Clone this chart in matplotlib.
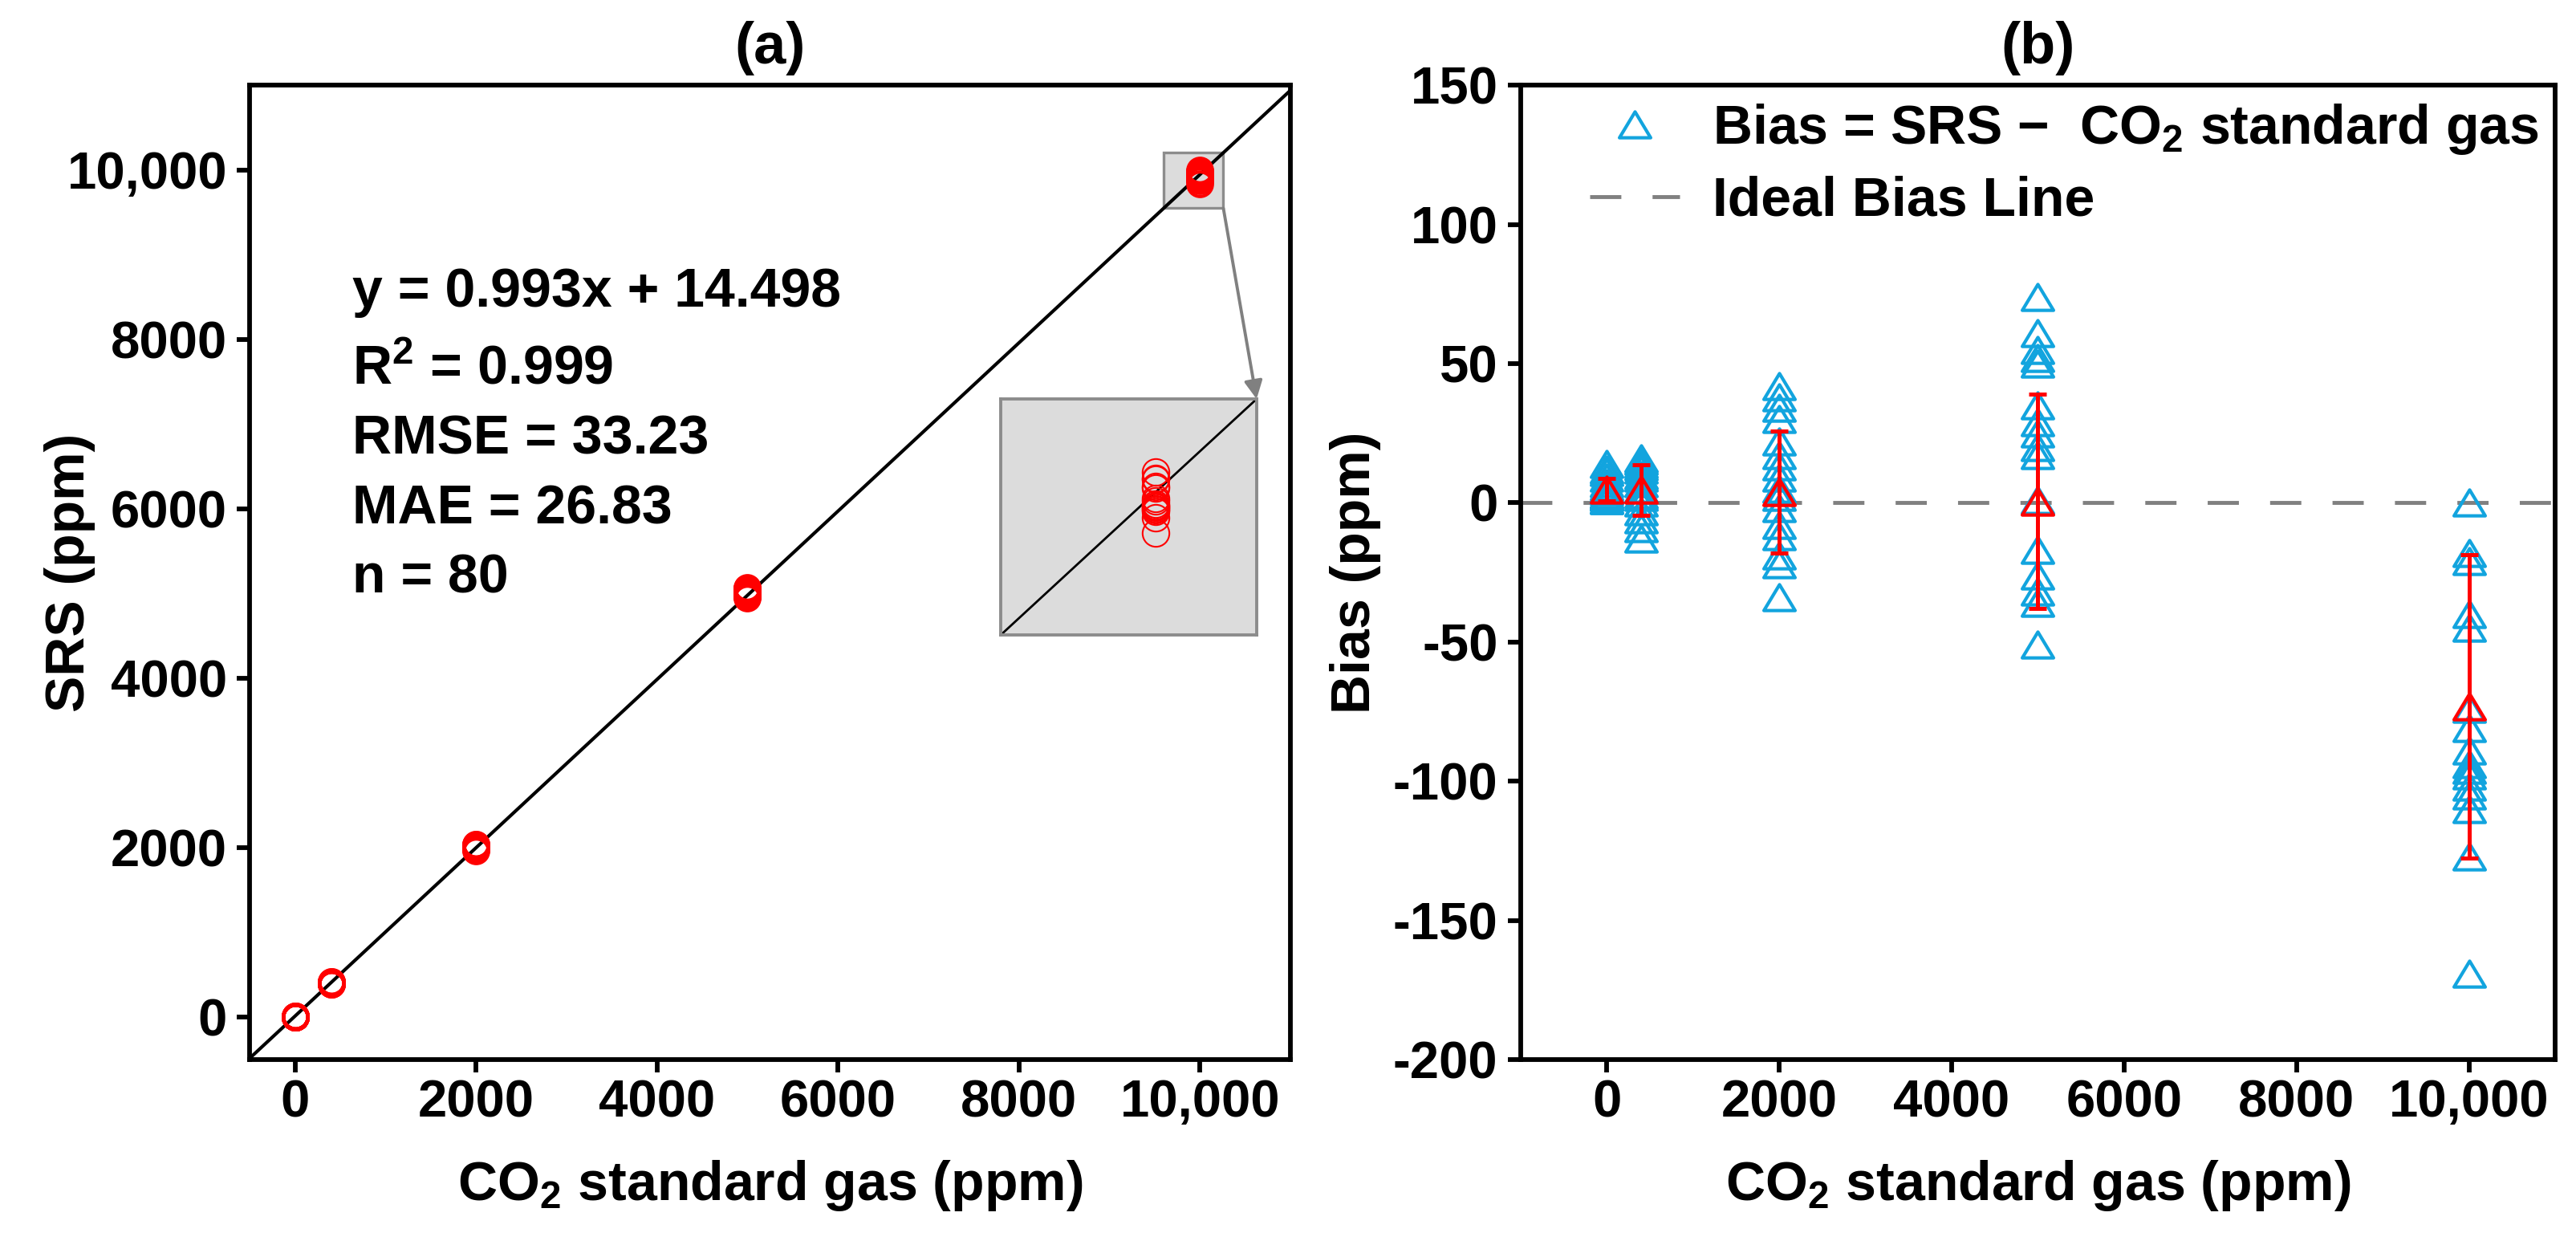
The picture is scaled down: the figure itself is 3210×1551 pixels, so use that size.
import numpy as np
import matplotlib
matplotlib.use("Agg")
import matplotlib.pyplot as plt
from matplotlib.ticker import FuncFormatter, MultipleLocator
from matplotlib.lines import Line2D
from matplotlib.patches import Rectangle
from matplotlib.path import Path

# --- data ---
std_levels = [0, 400, 2000, 5000, 10000]
bias_0 = [14, 12, 11, 9, 7, 6, 5, 4, 3, 3, 2, 2, 2, 1, 1, 2]
bias_400 = [16, 15, 14, 13, 12, 10, 9, 7, 5, 3, 2, 0, -3, -6, -9, -13]
bias_2000 = [42, 38, 34, 30, 22, 17, 13, 9, 5, 2, -2, -8, -12, -19, -22, -34]
bias_5000 = [74, 61, 55, 52, 50, 35, 29, 25, 20, 17, 1, -17, -26, -32, -36, -51]
bias_10000 = [0, -18, -21, -40, -45, -74, -81, -89, -94, -96, -98, -102, -105, -110, -127, -169]

# mean +- sd shown as red error bars
bias_mean = [4.7, 4.6, 3.8, 0.5, -73.0]
bias_sd = [4.0, 9.0, 22.0, 38.5, 54.5]

fit_slope = 0.993
fit_icept = 14.498
stats_text = ["y = 0.993x + 14.498", r"R$^{2}$ = 0.999", "RMSE = 33.23", "MAE = 26.83", "n = 80"]

plt.rcParams["font.family"] = ["Liberation Sans", "DejaVu Sans"]
plt.rcParams["font.weight"] = "bold"
plt.rcParams["axes.labelweight"] = "bold"
plt.rcParams["axes.titleweight"] = "bold"
plt.rcParams["mathtext.fontset"] = "custom"
plt.rcParams["mathtext.rm"] = "Liberation Sans:bold"
plt.rcParams["mathtext.bf"] = "Liberation Sans:bold"
plt.rcParams["mathtext.it"] = "Liberation Sans:bold"
plt.rcParams["mathtext.default"] = "bf"
plt.rcParams["axes.unicode_minus"] = False

FS = 49
TICK_FS = 47
TITLE_FS = 52
RED = "#FF0000"
BLUE = "#12A4DE"
GREY = "#808080"
INSET_BG = "#DCDCDC"

groups = [bias_0, bias_400, bias_2000, bias_5000, bias_10000]
x_all = np.concatenate([[lvl] * len(g) for lvl, g in zip(std_levels, groups)])
bias_all = np.concatenate(groups)
srs_all = x_all + bias_all

# slightly flattened open triangle, as in the original figure
tri = Path([(0, 0.83), (-1, -0.83), (1, -0.83), (0, 0.83)],
           [Path.MOVETO, Path.LINETO, Path.LINETO, Path.CLOSEPOLY])


def fmt_ppm(v, pos):
    if abs(v) >= 10000:
        return f"{v:,.0f}"
    return f"{v:.0f}"


def style_axes(ax):
    for s in ax.spines.values():
        s.set_linewidth(4.2)
    ax.tick_params(axis="both", which="major", direction="out", length=11.5, width=4.2,
                   labelsize=TICK_FS, top=False, right=False)
    ax.tick_params(axis="x", pad=6)
    ax.tick_params(axis="y", pad=9)


fig = plt.figure(figsize=(32.1, 15.51), dpi=100)
ax1 = fig.add_axes([0.0970, 0.1489, 0.4039, 0.7827])
ax2 = fig.add_axes([0.5903, 0.1489, 0.4016, 0.7827])

# ---------------- panel (a) ----------------
ax1.set_xlim(-500, 11000)
ax1.set_ylim(-500, 11000)
ax1.axline((0, fit_icept), slope=fit_slope, color="black", lw=3.0, zorder=2)
ax1.plot(x_all, srs_all, "o", ms=22, mfc="none", mec=RED, mew=3.0, ls="none", zorder=4)

ax1.xaxis.set_major_locator(MultipleLocator(2000))
ax1.yaxis.set_major_locator(MultipleLocator(2000))
ax1.xaxis.set_major_formatter(FuncFormatter(fmt_ppm))
ax1.yaxis.set_major_formatter(FuncFormatter(fmt_ppm))
style_axes(ax1)
ax1.set_xlabel(r"CO$_{2}$ standard gas (ppm)", fontsize=FS)
ax1.set_ylabel("SRS (ppm)", fontsize=FS)
ax1.xaxis.set_label_coords(0.5, -0.101)
ax1.yaxis.set_label_coords(-0.148, 0.5)
ax1.set_title("(a)", fontsize=TITLE_FS, pad=19.5)

text_y = [0.7727, 0.6936, 0.6219, 0.5502, 0.4794]
for ty, line in zip(text_y, stats_text):
    ax1.text(0.0983, ty, line, transform=ax1.transAxes, fontsize=FS, va="baseline", ha="left")

# zoom window around 10,000 ppm
zx0, zx1 = 9600, 10260
zy0, zy1 = fit_slope * zx0 + fit_icept, fit_slope * zx1 + fit_icept
ax1.add_patch(Rectangle((zx0, zy0), zx1 - zx0, zy1 - zy0, facecolor=INSET_BG,
                        edgecolor="#8C8C8C", lw=2.4, zorder=1))

axins = ax1.inset_axes([0.7216, 0.4357, 0.246, 0.2422])
axins.set_facecolor(INSET_BG)
axins.set_xlim(zx0, zx1)
axins.set_ylim(zy0, zy1)
axins.axline((0, fit_icept), slope=fit_slope, color="black", lw=2.0)
axins.plot(x_all, srs_all, "o", ms=24, mfc="none", mec=RED, mew=1.5, ls="none")
axins.set_xticks([])
axins.set_yticks([])
for s in axins.spines.values():
    s.set_color("#8C8C8C")
    s.set_linewidth(2.8)

ax1.annotate("", xy=(1.0, 1.0), xycoords=axins.transAxes,
             xytext=(zx1, zy0), textcoords="data",
             arrowprops=dict(arrowstyle="-|>", color=GREY, lw=2.8,
                             mutation_scale=34, shrinkA=0, shrinkB=0))

# ---------------- panel (b) ----------------
ax2.set_xlim(-1000, 11000)
ax2.set_ylim(-200, 150)
ax2.axhline(0, color=GREY, lw=3.5, ls=(0, (8, 8)), zorder=1)
ax2.plot(x_all, bias_all, marker=tri, ms=28, mfc="none", mec=BLUE, mew=3.0,
         ls="none", zorder=2)
ax2.errorbar(std_levels, bias_mean, yerr=bias_sd, fmt="none", ecolor=RED,
             elinewidth=3.6, capsize=8, capthick=3.6, zorder=3)
ax2.plot(std_levels, bias_mean, marker=tri, ms=28, mfc="none", mec=RED, mew=3.0,
         ls="none", zorder=3)

ax2.xaxis.set_major_locator(MultipleLocator(2000))
ax2.yaxis.set_major_locator(MultipleLocator(50))
ax2.xaxis.set_major_formatter(FuncFormatter(fmt_ppm))
ax2.yaxis.set_major_formatter(FuncFormatter(fmt_ppm))
style_axes(ax2)
ax2.set_xlabel(r"CO$_{2}$ standard gas (ppm)", fontsize=FS)
ax2.set_ylabel("Bias (ppm)", fontsize=FS)
ax2.xaxis.set_label_coords(0.5, -0.101)
ax2.yaxis.set_label_coords(-0.135, 0.5)
ax2.set_title("(b)", fontsize=TITLE_FS, pad=19.5)

handles = [
    Line2D([], [], marker=tri, ms=28, mfc="none", mec=BLUE, mew=3.0, ls="none"),
    Line2D([], [], color=GREY, lw=3.5, ls=(0, (8, 8))),
]
labels = ["Bias = SRS \u2212  CO$_{2}$ standard gas", "Ideal Bias Line"]
ax2.legend(handles, labels, loc="upper right", frameon=False, fontsize=FS,
           handlelength=1.65, handletextpad=0.6, labelspacing=0.35,
           borderpad=0.0, borderaxespad=0.3)

fig.savefig("out.png", dpi=100)
